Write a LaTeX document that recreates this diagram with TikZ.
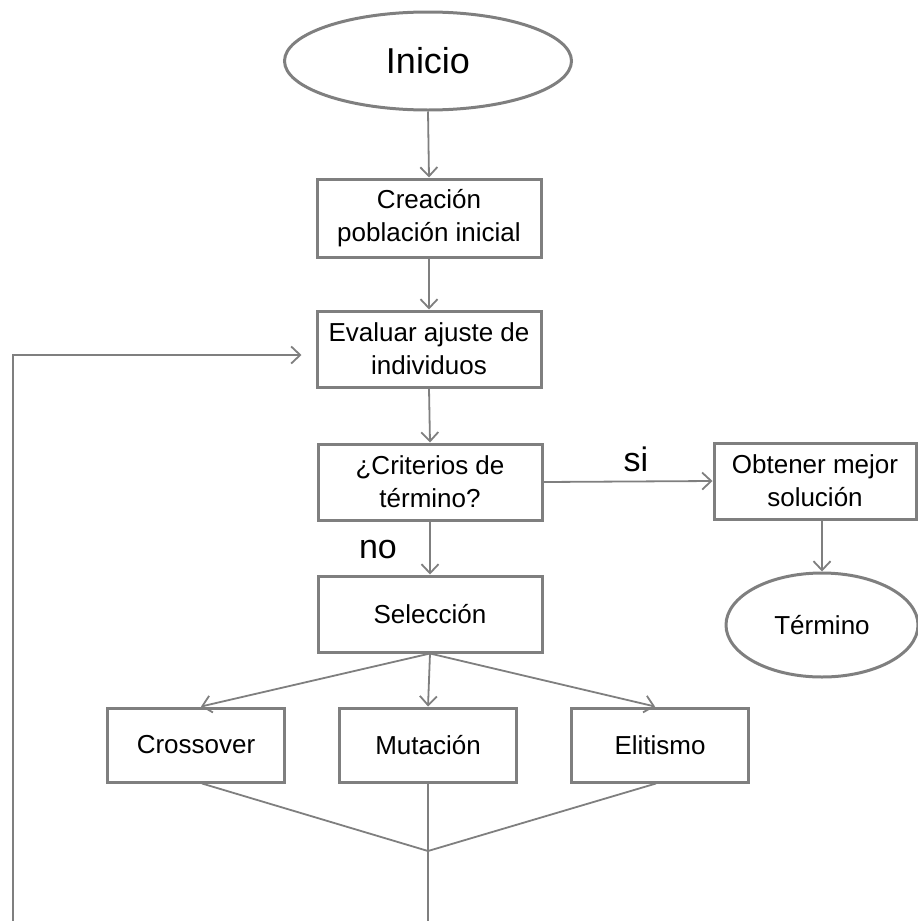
\documentclass[tikz,border=0pt]{standalone}
\usepackage{fontspec}
\setmainfont{Liberation Sans}
\usetikzlibrary{shapes.geometric,arrows.meta,calc}
\definecolor{linegray}{HTML}{7F7F7F}
\tikzset{
  box/.style={draw=linegray, line width=3pt, rectangle, inner sep=0pt,
    align=center, font=\fontsize{26}{33}\selectfont, text=black},
  oval/.style={draw=linegray, line width=3pt, ellipse, inner sep=0pt,
    align=center, text=black},
  link/.style={draw=linegray, line width=1.8pt},
  arr/.style={link, -{Straight Barb[length=9pt,width=17pt,line width=1.8pt]}},
  lbl/.style={font=\fontsize{34}{38}\selectfont, text=black, inner sep=0pt}
}
\begin{document}
\begin{tikzpicture}[x=1pt,y=-1pt]
\useasboundingbox (0,0) rectangle (918,921);

% main column
\node[oval, minimum width=287pt, minimum height=98pt,
      font=\fontsize{36}{40}\selectfont] (inicio) at (428,61) {Inicio};
\node[box, minimum width=224pt, minimum height=78pt] (creacion) at (429,218)
  {Creación\\población inicial};
\node[box, minimum width=224pt, minimum height=76pt] (evaluar) at (429,349)
  {Evaluar ajuste de\\individuos};
\node[box, minimum width=224pt, minimum height=76pt] (criterios) at (430,482)
  {¿Criterios de\\término?};
\node[box, minimum width=224pt, minimum height=76pt] (seleccion) at (430,614)
  {Selección};

% exit branch
\node[box, minimum width=202pt, minimum height=76pt] (obtener) at (815,481)
  {Obtener mejor\\solución};
\node[oval, minimum width=192pt, minimum height=104pt,
      font=\fontsize{26}{30}\selectfont] (termino) at (822,625) {Término};

% operators
\node[box, minimum width=177pt, minimum height=74pt] (cross) at (196,745) {Crossover};
\node[box, minimum width=177pt, minimum height=74pt] (mut) at (428,745) {Mutación};
\node[box, minimum width=177pt, minimum height=74pt] (elit) at (660,745) {Elitismo};

% labels
\node[lbl] (si) at (636,459) {si};
\node[lbl] (no) at (378,550) {no};

% connectors
\draw[arr] (inicio.south) -- (creacion.north);
\draw[arr] (creacion.south) -- (evaluar.north);
\draw[arr] (evaluar.south) -- (criterios.north);
\draw[arr] (criterios.east) -- (obtener.west);
\draw[arr] (criterios.south) -- (seleccion.north);
\draw[arr] (obtener.south -| termino.north) -- (termino.north);
\draw[arr] (seleccion.south) -- ($(cross.north)+(5,0)$);
\draw[arr] (seleccion.south) -- (mut.north);
\draw[arr] (seleccion.south) -- ($(elit.north)+(-5,0)$);

% merge of the operators and loop back
\coordinate (merge) at (428,851);
\coordinate (bottomA) at (428,921);
\coordinate (bottomB) at (13,921);
\draw[link] ($(cross.south)+(6,0)$) -- (merge);
\draw[link] ($(elit.south)+(-4,0)$) -- (merge);
\draw[link] (mut.south) -- (merge) -- (bottomA);
\draw[arr, shorten >=14pt] (bottomB) |- ($(evaluar.west)+(0,6)$);
\end{tikzpicture}
\end{document}
